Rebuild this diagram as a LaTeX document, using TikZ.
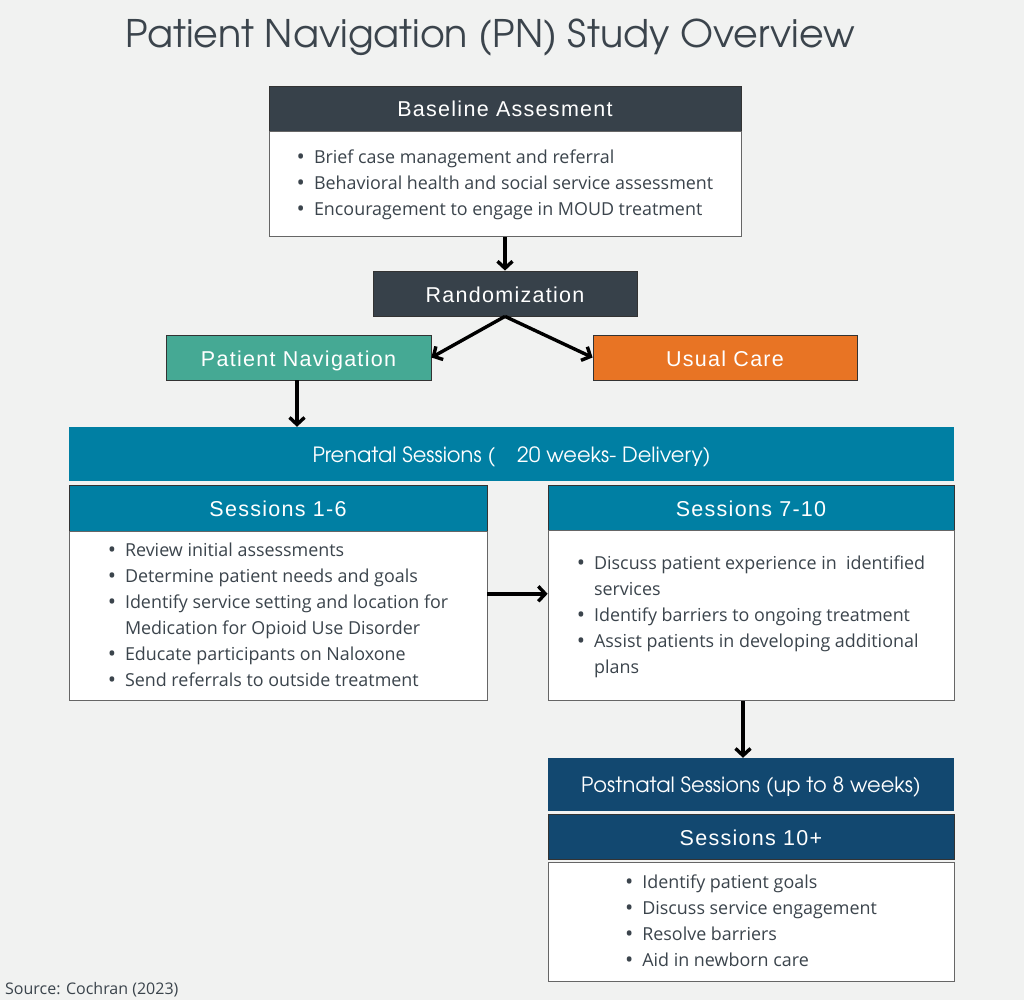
\documentclass[tikz,border=0pt]{standalone}
\usepackage{fontspec}
\usepackage{tikz}
\usetikzlibrary{positioning,arrows.meta}
\newfontfamily\hdfont[LetterSpace=6]{Liberation Sans}
\newfontfamily\bodyfont{Open Sans}
\newfontfamily\gothfont{TeX Gyre Adventor}

\definecolor{pagebg}{HTML}{F1F2F1}
\definecolor{slate}{HTML}{37414A}
\definecolor{navteal}{HTML}{45A994}
\definecolor{careorange}{HTML}{E87424}
\definecolor{preblue}{HTML}{007FA3}
\definecolor{postnavy}{HTML}{124870}
\definecolor{bodytext}{HTML}{3B444C}

\newcommand{\bul}{\raisebox{-1pt}{\fontsize{22}{26}\selectfont\textbullet}}

\tikzset{
  headbox/.style={draw=black!80, line width=0.8pt, minimum height=45pt, inner sep=0pt, text height=17pt, text depth=0pt, text=white, font=\hdfont\fontsize{21.5}{25}\selectfont},
  bodybox/.style={draw=black!60, line width=0.8pt, fill=white, inner sep=0pt, text=bodytext, font=\bodyfont\fontsize{17.9}{26}\selectfont},
  phasebox/.style={inner sep=0pt, text height=17pt, text depth=1pt, text=white, font=\gothfont\fontsize{21}{25}\selectfont},
  link/.style={-{Straight Barb[length=7pt,width=15pt]}, line width=3.4pt},
}

\begin{document}
\begin{tikzpicture}[x=1pt, y=-1pt]
\useasboundingbox[fill=pagebg] (0,0) rectangle (1024,1000);

\node[text=bodytext, font=\gothfont\fontsize{38}{44}\selectfont] (title) at (490,38) {Patient Navigation (PN) Study Overview};

% baseline and randomization
\node[headbox, fill=slate, minimum width=472pt] (basehead) at (505,108.5) {Baseline Assesment};
\node[bodybox, minimum width=472pt, minimum height=105pt, below=0pt of basehead] (basebody) {%
\begin{tabular}{@{}l@{\hspace{9pt}}l@{}}
\bul & Brief case management and referral\\
\bul & Behavioral health and social service assessment\\
\bul & Encouragement to engage in MOUD treatment\\
\end{tabular}};
\node[headbox, fill=slate, minimum width=264pt] (rand) at (505,293.5) {Randomization};
\node[headbox, fill=navteal, minimum width=265pt] (pn) at (298.5,357.5) {Patient Navigation};
\node[headbox, fill=careorange, minimum width=264pt] (uc) at (725,357.5) {Usual Care};

% prenatal
\node[phasebox, fill=preblue, minimum width=885pt, minimum height=54pt] (prenatal) at (511.5,454) {Prenatal Sessions (\hspace{22pt}20 weeks- Delivery)};
\node[headbox, fill=preblue, minimum width=418pt, minimum height=46pt] (s16head) at (278,508) {Sessions 1-6};
\node[bodybox, minimum width=418pt, minimum height=169pt, below=0pt of s16head] (s16body) {%
\begin{tabular}{@{}l@{\hspace{9pt}}l@{}}
\bul & Review initial assessments\\
\bul & Determine patient needs and goals\\
\bul & Identify service setting and location for\\
     & Medication for Opioid Use Disorder\\
\bul & Educate participants on Naloxone\\
\bul & Send referrals to outside treatment\\
\end{tabular}};
\node[headbox, fill=preblue, minimum width=406pt] (s710head) at (751,507.5) {Sessions 7-10};
\node[bodybox, minimum width=406pt, minimum height=170pt, below=0pt of s710head] (s710body) {%
\begin{tabular}{@{}l@{\hspace{9pt}}l@{}}
\bul & Discuss patient experience in\ \ identified\\
     & services\\
\bul & Identify barriers to ongoing treatment\\
\bul & Assist patients in developing additional\\
     & plans\\
\end{tabular}};

% postnatal
\node[phasebox, fill=postnavy, minimum width=406pt, minimum height=53pt] (post) at (751,784.5) {Postnatal Sessions (up to 8 weeks)};
\node[headbox, fill=postnavy, minimum width=406pt, below=3pt of post] (s10head) {Sessions 10+};
\node[bodybox, minimum width=406pt, minimum height=119pt, below=2pt of s10head] (s10body) {%
\begin{tabular}{@{}l@{\hspace{9pt}}l@{}}
\bul & Identify patient goals\\
\bul & Discuss service engagement\\
\bul & Resolve barriers\\
\bul & Aid in newborn care\\
\end{tabular}};

\node[anchor=west, inner sep=0pt, text=bodytext, font=\bodyfont\fontsize{16}{19}\selectfont] (source) at (5,990) {Source: Cochran (2023)};

\draw[link] (basebody.south) -- (rand.north);
\draw[link] (rand.south) -- (pn.east);
\draw[link] (rand.south) -- (uc.west);
\draw[link] ([xshift=-1.5pt]pn.south) -- ([xshift=-1.5pt]pn.south |- prenatal.north);
\draw[link] ([yshift=22.5pt]s16body.east) -- ([yshift=22.5pt]s16body.east -| s710body.west);
\draw[link] ([xshift=-8pt]s710body.south) -- ([xshift=-8pt]post.north);
\end{tikzpicture}
\end{document}
